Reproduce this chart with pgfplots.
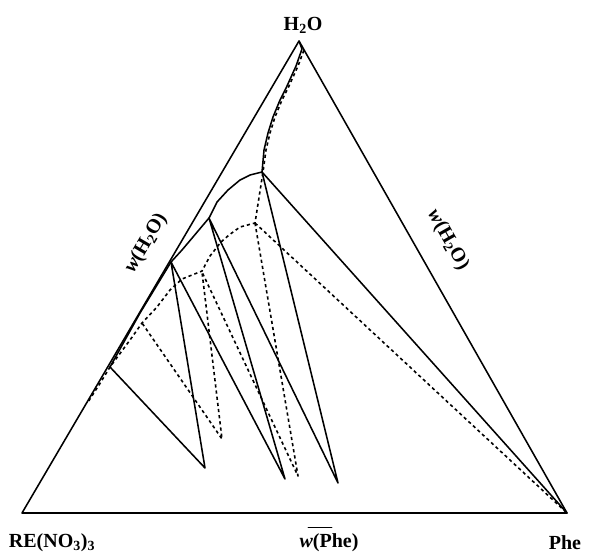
\documentclass[border=0pt]{standalone}
\usepackage{fontspec}
\setmainfont{Liberation Serif}
\usepackage{pgfplots}
\pgfplotsset{compat=1.18}
\begin{document}
\begin{tikzpicture}
\begin{axis}[width=596pt,height=549pt,scale only axis,
  xmin=0,xmax=596,ymin=0,ymax=549,y dir=reverse,
  axis lines=none,clip=false,
  every axis plot/.append style={mark=none,line join=round,line cap=round},
  solid line/.style={black,line width=1.55pt},
  dash line/.style={black,line width=1.6pt,dash pattern=on 3.2pt off 3pt,line cap=butt}]
\path (rel axis cs:0,0) rectangle (rel axis cs:1,1);
% triangle
\addplot[solid line] coordinates {(299,41) (22,513) (567,513) (299,41)};
% solid solubility curve
\addplot[solid line] coordinates {(299,41) (302,49) (296,66) (287,86) (280,100) (273,117) (268,133) (264,150) (262,172)
  (250,175) (240,180) (228,190) (217,202) (209,218) (193,237) (182,250) (171,262) (140,313) (110,367)};
% solid tie lines
\addplot[solid line] coordinates {(262,172) (567,513)};
\addplot[solid line] coordinates {(262,172) (338,483) (209,218) (285,479) (171,262) (205,468) (110,367)};
% dashed solubility curve
\addplot[dash line] coordinates {(301,45) (304,50) (298,66) (289,86) (282,100) (275,117) (270,133) (266,150) (263,172)
  (255,223) (240,227) (229,235) (221,242) (210,256) (202,271) (192,275) (182,279) (170,290) (157,307) (142,323) (130,340) (110,367) (99,385) (88,402)};
% dashed tie lines
\addplot[dash line] coordinates {(255,223) (567,513)};
\addplot[dash line] coordinates {(255,223) (298,476) (202,272) (222,439) (142,323)};
% small bar above w(Phe)
\addplot[black,line width=0.9pt] coordinates {(308,527) (332,527)};
% labels
\node[font=\bfseries\fontsize{20}{24}\selectfont] at (axis cs:303,25) {H\textsubscript{2}O};
\node[font=\bfseries\fontsize{20}{24}\selectfont] at (axis cs:52,543) {RE(NO\textsubscript{3})\textsubscript{3}};
\node[font=\bfseries\fontsize{20}{24}\selectfont] at (axis cs:329,543) {\textit{w}(Phe)};
\node[font=\bfseries\fontsize{20}{24}\selectfont] at (axis cs:565,543) {Phe};
\node[font=\bfseries\fontsize{20}{24}\selectfont,rotate=59.6] at (axis cs:146,243) {\textit{w}(H\textsubscript{2}O)};
\node[font=\bfseries\fontsize{20}{24}\selectfont,rotate=-60.4] at (axis cs:448,240) {\textit{w}(H\textsubscript{2}O)};
\end{axis}
\end{tikzpicture}
\end{document}
